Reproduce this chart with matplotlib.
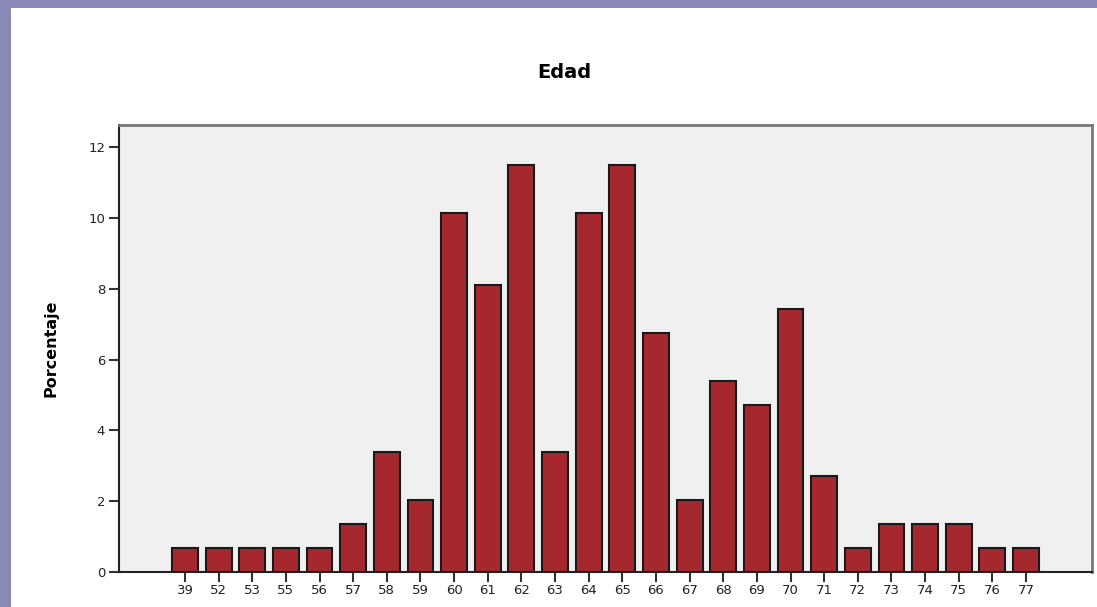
import matplotlib
matplotlib.use("Agg")
import matplotlib.pyplot as plt
from matplotlib.patches import Rectangle

edades = ["39", "52", "53", "55", "56", "57", "58", "59", "60", "61", "62", "63", "64",
          "65", "66", "67", "68", "69", "70", "71", "72", "73", "74", "75", "76", "77"]
porcentaje = [0.68, 0.68, 0.68, 0.68, 0.68, 1.35, 3.38, 2.03, 10.14, 8.11, 11.49, 3.38, 10.14,
              11.49, 6.76, 2.03, 5.41, 4.73, 7.43, 2.70, 0.68, 1.35, 1.35, 1.35, 0.68, 0.68]

W, H = 1097, 607
fig = plt.figure(figsize=(W / 100, H / 100), dpi=100)
fig.patch.set_facecolor("#8a88b4")
# white slide panel
fig.patches.append(Rectangle((11 / W, 0), 1, 1 - 8 / H, transform=fig.transFigure,
                             facecolor="white", edgecolor="none", zorder=-10))

ax = fig.add_axes([119 / W, 1 - 572 / H, (1092 - 119) / W, (572 - 125) / H])
ax.set_zorder(1)
ax.set_facecolor("#f0f0f0")

x = list(range(len(edades)))
ax.bar(x, porcentaje, width=0.77, color="#a5282f", edgecolor="#1a1a1a", linewidth=1.5, zorder=3)

ax.set_xlim(-1.96, 26.96)
ax.set_ylim(0, 12.63)
ax.set_xticks(x)
ax.set_xticklabels(edades)
ax.set_yticks([0, 2, 4, 6, 8, 10, 12])

ax.tick_params(axis="x", length=7, width=1.5, color="#333333", labelsize=9.5,
               labelcolor="#222222", pad=2)
ax.tick_params(axis="y", length=7, width=1.5, color="#333333", labelsize=9.5,
               labelcolor="#222222", pad=3)

for s in ["left", "bottom"]:
    ax.spines[s].set_color("#222222")
    ax.spines[s].set_linewidth(1.5)
for s in ["top", "right"]:
    ax.spines[s].set_color("#777777")
    ax.spines[s].set_linewidth(2)

ax.set_ylabel("Porcentaje", fontsize=11.5, fontweight="bold", labelpad=21)
fig.text(564 / W, 1 - 73 / H, "Edad", ha="center", va="center",
         fontsize=14, fontweight="bold")

fig.savefig("out.png", dpi=100)
